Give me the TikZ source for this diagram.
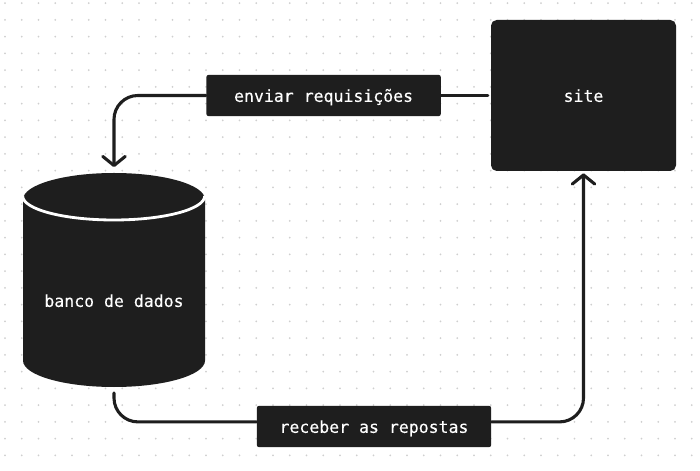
\documentclass[tikz,border=0pt]{standalone}
\usepackage{fontspec}
\setmonofont[FakeBold=0.2]{DejaVu Sans Mono}
\usetikzlibrary{positioning, shapes.geometric, arrows.meta}
\definecolor{boxdark}{HTML}{1E1E1E}
\definecolor{griddot}{HTML}{CFCFCF}

\begin{document}
\begin{tikzpicture}[
  % Node Styles
  textfont/.style={text=white, align=center, text height=9pt, text depth=0pt, font=\ttfamily\fontsize{11.75}{14}\selectfont},
  sitenode/.style={rectangle, rounded corners=4pt, fill=boxdark, textfont, minimum width=4.625cm, minimum height=3.775cm},
  labelnode/.style={rectangle, rounded corners=1.5pt, fill=boxdark, textfont, minimum width=5.86cm, minimum height=1.03cm},
  dbnode/.style={cylinder, shape border rotate=90, aspect=0.38, fill=boxdark, textfont, text height=19.2pt, minimum width=4.55cm, minimum height=5.35cm, inner sep=0pt},
  % Arrow Styles
  plainline/.style={line width=2.2pt, boxdark, line cap=round},
  arrowline/.style={line width=2.2pt, boxdark, rounded corners=17pt, line cap=round, -{Straight Barb[length=6.5pt, width=16pt, line width=2.2pt, round]}}
]

\useasboundingbox[fill=white] (0,0) rectangle (17.5,11.75);

% Dot grid
\foreach \i in {0,...,41}
  \foreach \j in {0,...,27}
    \fill[griddot] ({0.125+0.41875*\i},{11.67-0.41875*\j}) circle (0.024);

\node[sitenode] (site) at (14.5875,9.3625) {site};
\node[labelnode] (enviar) at (8.09,9.3625) {enviar requisições};
\node[labelnode] (receber) at (9.35,1.0875) {receber as repostas};
\node[dbnode, anchor=shape center] (db) at (2.85,4.75) {banco de dados};

% Lid of the cylinder
\draw[white, line width=2pt] (db.west |- 0,6.85) arc[start angle=180, end angle=360, x radius=2.275, y radius=0.6];

\draw[plainline, shorten <=2pt] (site.west) -- (enviar.east);
\draw[arrowline, shorten >=4pt] (enviar.west) -| (db.north);
\draw[arrowline, -, shorten <=4pt] (db.south) |- ([yshift=0.115cm]receber.west);
\draw[arrowline, shorten >=1.5pt] ([yshift=0.115cm]receber.east) -| (site.south);

\end{tikzpicture}
\end{document}
